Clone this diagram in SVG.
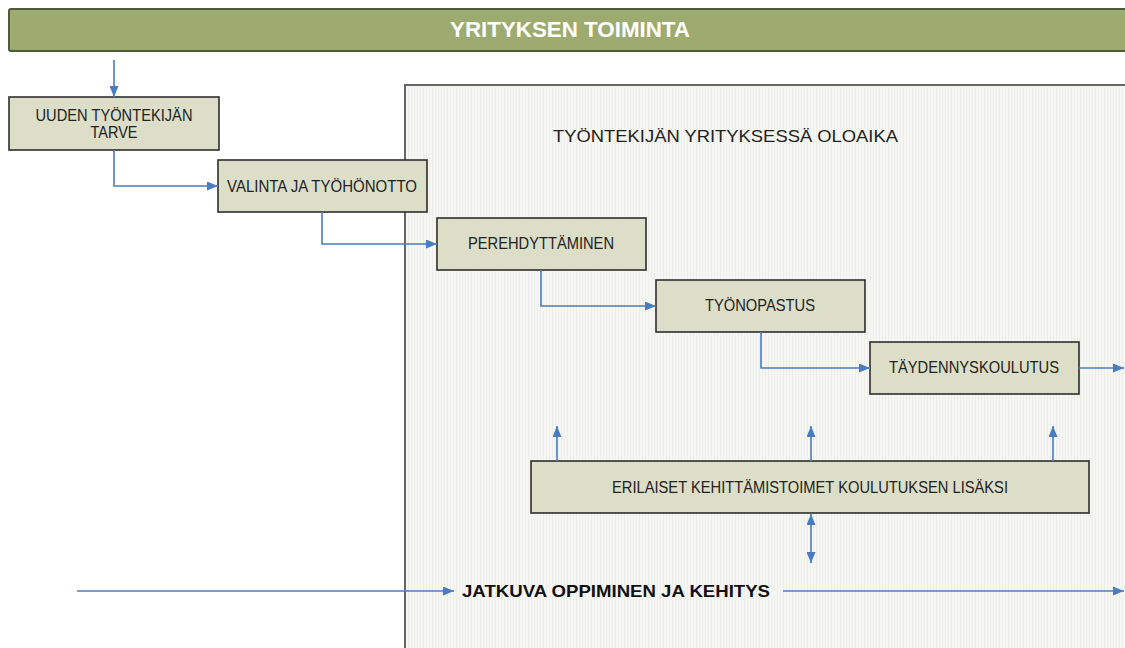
<svg xmlns="http://www.w3.org/2000/svg" width="1125" height="648" viewBox="0 0 1125 648">
  <defs>
    <pattern id="stripes" width="3" height="10" patternUnits="userSpaceOnUse">
      <rect width="3" height="10" fill="#f6f6f3"/>
      <rect width="1" height="10" fill="#eeeeea"/>
    </pattern>
    <marker id="arrow" viewBox="0 0 11 9" refX="11" refY="4.5" markerWidth="11" markerHeight="9" markerUnits="userSpaceOnUse" orient="auto-start-reverse">
      <path d="M0,0 L11,4.5 L0,9 Z" fill="#4a7cc0"/>
    </marker>
    <style>
      .box { fill: #dcdec8; stroke: #2e2e2e; stroke-width: 1.6; }
      .lbl { font-family: "Liberation Sans", Arial, sans-serif; font-size: 17px; fill: #222; text-anchor: middle; }
      .conn { fill: none; stroke: #4a7cc0; stroke-width: 1.6; }
      .conn path { marker-end: url(#arrow); }
    </style>
  </defs>

  <rect width="1125" height="648" fill="#ffffff"/>

  <!-- top banner -->
  <g id="banner">
    <rect x="9" y="9" width="1130" height="42" rx="2" fill="#9eab70" stroke="#4f5a3a" stroke-width="2"/>
    <text x="570" y="37" font-family="'Liberation Sans', Arial, sans-serif" font-size="22" font-weight="bold" fill="#ffffff" text-anchor="middle" textLength="240" lengthAdjust="spacingAndGlyphs">YRITYKSEN TOIMINTA</text>
  </g>

  <!-- employment period area -->
  <g id="period">
    <rect x="405" y="85" width="740" height="590" fill="url(#stripes)" stroke="#666666" stroke-width="2"/>
    <text class="lbl" x="725.5" y="142" textLength="345" lengthAdjust="spacingAndGlyphs">TYÖNTEKIJÄN YRITYKSESSÄ OLOAIKA</text>
  </g>

  <g id="need">
    <rect class="box" x="9" y="97" width="210" height="53"/>
    <text class="lbl" x="114" y="121" textLength="157" lengthAdjust="spacingAndGlyphs">UUDEN TYÖNTEKIJÄN</text>
    <text class="lbl" x="114" y="138" textLength="47" lengthAdjust="spacingAndGlyphs">TARVE</text>
  </g>

  <g id="recruit">
    <rect class="box" x="218" y="160" width="209" height="52"/>
    <text class="lbl" x="322" y="192" textLength="190" lengthAdjust="spacingAndGlyphs">VALINTA JA TYÖHÖNOTTO</text>
  </g>

  <g id="induction">
    <rect class="box" x="437" y="218" width="209" height="52"/>
    <text class="lbl" x="541" y="249" textLength="146" lengthAdjust="spacingAndGlyphs">PEREHDYTTÄMINEN</text>
  </g>

  <g id="guidance">
    <rect class="box" x="656" y="280" width="209" height="52"/>
    <text class="lbl" x="760" y="311" textLength="110" lengthAdjust="spacingAndGlyphs">TYÖNOPASTUS</text>
  </g>

  <g id="training">
    <rect class="box" x="870" y="342" width="209" height="52"/>
    <text class="lbl" x="974" y="373" textLength="170" lengthAdjust="spacingAndGlyphs">TÄYDENNYSKOULUTUS</text>
  </g>

  <g id="development">
    <rect class="box" x="531" y="461" width="558" height="52"/>
    <text class="lbl" x="810" y="493" textLength="396" lengthAdjust="spacingAndGlyphs">ERILAISET KEHITTÄMISTOIMET KOULUTUKSEN LISÄKSI</text>
  </g>

  <g id="learning">
    <text x="616" y="597" font-family="'Liberation Sans', Arial, sans-serif" font-size="17" font-weight="bold" fill="#111" text-anchor="middle" textLength="308" lengthAdjust="spacingAndGlyphs">JATKUVA OPPIMINEN JA KEHITYS</text>
  </g>

  <!-- connectors -->
  <g id="connectors" class="conn">
    <path d="M114,60 V97"/>
    <path d="M114,150 V186 H218"/>
    <path d="M322,212 V244 H437"/>
    <path d="M541,270 V306 H656"/>
    <path d="M761,332 V368 H870"/>
    <path d="M1079,368 H1124"/>
    <path d="M557,461 V426"/>
    <path d="M811,461 V426"/>
    <path d="M1053,461 V426"/>
    <path d="M811,514 V563" marker-start="url(#arrow)"/>
    <path d="M77,591 H454"/>
    <path d="M783,591 H1124"/>
  </g>
</svg>
